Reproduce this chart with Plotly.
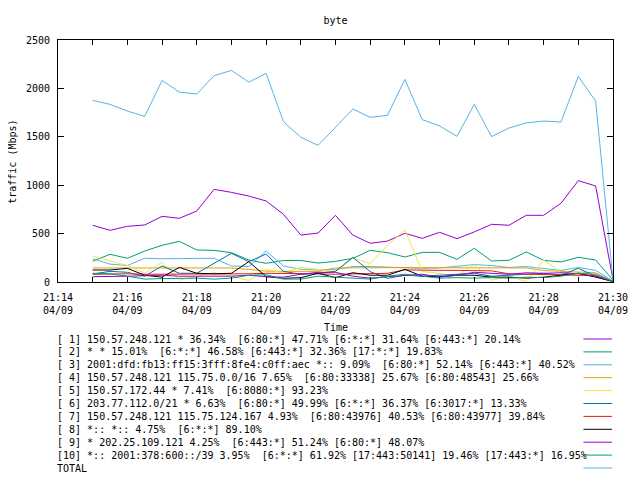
import plotly.graph_objects as go

# ---- data ----
times = ["21:15:00", "21:15:30", "21:16:00", "21:16:30", "21:17:00", "21:17:30",
         "21:18:00", "21:18:30", "21:19:00", "21:19:30", "21:20:00", "21:20:30",
         "21:21:00", "21:21:30", "21:22:00", "21:22:30", "21:23:00", "21:23:30",
         "21:24:00", "21:24:30", "21:25:00", "21:25:30", "21:26:00", "21:26:30",
         "21:27:00", "21:27:30", "21:28:00", "21:28:30", "21:29:00", "21:29:30",
         "21:30:00"]
day = "2024-04-09"

s1 = [586, 534, 575, 589, 678, 658, 733, 957, 926, 888, 837, 699, 485, 506, 689, 485,
      400, 423, 503, 451, 513, 448, 517, 596, 586, 689, 689, 813, 1047, 992, 20]
s2 = [215, 286, 245, 320, 379, 420, 331, 327, 303, 227, 193, 222, 222, 196, 213, 244,
      327, 303, 258, 306, 306, 234, 348, 217, 224, 310, 224, 207, 255, 227, 20]
s3 = [240, 185, 170, 245, 240, 240, 240, 245, 165, 160, 320, 165, 131, 124, 128, 160,
      160, 155, 150, 141, 145, 165, 180, 170, 150, 160, 140, 120, 150, 120, 10]
s4 = [145, 145, 145, 145, 145, 145, 145, 145, 145, 130, 112, 110, 110, 110, 145, 148,
      148, 148, 148, 148, 148, 148, 148, 148, 148, 145, 118, 108, 100, 95, 5]
s5 = [268, 220, 170, 90, 205, 20, 55, 96, 60, 14, 131, 96, 151, 131, 107, 245,
      193, 380, 537, 110, 85, 65, 176, 20, 60, 4, 227, 96, 107, 55, 5]
s6 = [83, 110, 100, 60, 166, 90, 90, 193, 296, 210, 289, 110, 80, 90, 110, 255,
      107, 38, 70, 60, 70, 80, 90, 60, 70, 80, 90, 70, 141, 60, 5]
s7 = [80, 85, 85, 80, 80, 85, 85, 85, 80, 85, 90, 90, 85, 85, 80, 85,
      85, 90, 125, 120, 120, 120, 120, 115, 85, 80, 80, 75, 70, 65, 5]
s8 = [124, 124, 141, 70, 50, 151, 90, 85, 90, 210, 55, 38, 45, 90, 45, 96,
      70, 70, 131, 60, 55, 70, 70, 50, 50, 40, 50, 70, 90, 50, 5]
s9 = [55, 55, 60, 65, 70, 60, 60, 55, 60, 70, 55, 50, 80, 100, 100, 60,
      40, 55, 70, 80, 50, 70, 100, 90, 80, 95, 90, 95, 85, 60, 5]
s10 = [90, 85, 60, 30, 35, 40, 40, 30, 40, 70, 75, 30, 30, 60, 50, 40,
       30, 60, 80, 60, 40, 45, 40, 45, 40, 50, 45, 60, 90, 80, 5]
total = [1876, 1835, 1766, 1711, 2082, 1962, 1942, 2131, 2186, 2065, 2155, 1656,
         1495, 1412, 1598, 1787, 1701, 1722, 2093, 1677, 1612, 1505, 1835, 1502,
         1591, 1643, 1663, 1653, 2124, 1869, 20]

labels = [
    "[ 1] 150.57.248.121 * 36.34%  [6:80:*] 47.71% [6:*:*] 31.64% [6:443:*] 20.14%",
    "[ 2] * * 15.01%  [6:*:*] 46.58% [6:443:*] 32.36% [17:*:*] 19.83%",
    "[ 3] 2001:dfd:fb13:ff15:3fff:8fe4:c0ff:aec *:: 9.09%  [6:80:*] 52.14% [6:443:*] 40.52%",
    "[ 4] 150.57.248.121 115.75.0.0/16 7.65%  [6:80:33338] 25.67% [6:80:48543] 25.66%",
    "[ 5] 150.57.172.44 * 7.41%  [6:8080:*] 93.23%",
    "[ 6] 203.77.112.0/21 * 6.63%  [6:80:*] 49.99% [6:*:*] 36.37% [6:3017:*] 13.33%",
    "[ 7] 150.57.248.121 115.75.124.167 4.93%  [6:80:43976] 40.53% [6:80:43977] 39.84%",
    "[ 8] *:: *:: 4.75%  [6:*:*] 89.10%",
    "[ 9] * 202.25.109.121 4.25%  [6:443:*] 51.24% [6:80:*] 48.07%",
    "[10] *:: 2001:378:600::/39 3.95%  [6:*:*] 61.92% [17:443:50141] 19.46% [17:443:*] 16.95%",
    "TOTAL",
]
colors = ["#9400d3", "#009e73", "#56b4e9", "#e69f00", "#f0e442", "#0072b2",
          "#e51e10", "#000000", "#9400d3", "#009e73", "#56b4e9"]

tick_times = ["21:14", "21:15", "21:16", "21:17", "21:18", "21:19", "21:20", "21:21",
              "21:22", "21:23", "21:24", "21:25", "21:26", "21:27", "21:28", "21:29", "21:30"]
tick_text = ["21:14<br>04/09", "", "21:16<br>04/09", "", "21:18<br>04/09", "",
             "21:20<br>04/09", "", "21:22<br>04/09", "", "21:24<br>04/09", "",
             "21:26<br>04/09", "", "21:28<br>04/09", "", "21:30<br>04/09"]
y_ticks = [0, 500, 1000, 1500, 2000, 2500]

# ---- figure ----
series = [s1, s2, s3, s4, s5, s6, s7, s8, s9, s10, total]
x = [f"{day} {t}" for t in times]

OFF = 8  # page body margin in the viewer
W, H = 640 - OFF, 480 - OFF
L, T = 58 - OFF, 40 - OFF
R, B = 18, 198
pw, ph = W - L - R, H - T - B
FONT = "DejaVu Sans Mono"

fig = go.Figure()
for vals, name, col in zip(series, labels, colors):
    fig.add_trace(go.Scatter(x=x, y=vals, mode="lines", name=name,
                             line=dict(color=col, width=1), showlegend=False))

# helpers: convert page pixel positions to paper coords
def px_x(p):
    return (p - OFF - L) / pw

def px_y(p):
    return (H - B - (p - OFF)) / ph

annotations = []
shapes = []
for i, (name, col) in enumerate(zip(labels, colors)):
    py = 339 + 12.9 * i
    annotations.append(dict(xref="paper", yref="paper", x=px_x(55), y=px_y(py),
                            xanchor="left", yanchor="middle", showarrow=False,
                            text=name.replace("  ", " \u00a0"),
                            font=dict(family=FONT, size=10, color="black")))
    shapes.append(dict(type="line", xref="paper", yref="paper",
                       x0=px_x(592), x1=px_x(621), y0=px_y(py), y1=px_y(py),
                       line=dict(color=col, width=1)))

annotations.append(dict(xref="paper", yref="paper", x=px_x(11), y=px_y(162),
                        xanchor="center", yanchor="middle", showarrow=False,
                        text="traffic (Mbps)", textangle=-90,
                        font=dict(family=FONT, size=10, color="black")))
annotations.append(dict(xref="paper", yref="paper", x=0.5, y=px_y(327),
                        xanchor="center", yanchor="middle", showarrow=False,
                        text="Time", font=dict(family=FONT, size=10, color="black")))

fig.update_layout(
    width=W, height=H,
    margin=dict(l=L, r=R, t=T, b=B),
    paper_bgcolor="white", plot_bgcolor="white",
    font=dict(family=FONT, size=10, color="black"),
    title=dict(text="byte", x=0.5, xref="paper", y=1 - (20 - OFF) / H, yanchor="middle",
               font=dict(family=FONT, size=10, color="black")),
    annotations=annotations, shapes=shapes,
    xaxis=dict(type="date", range=[f"{day} 21:14:00", f"{day} 21:30:00"],
               tickvals=[f"{day} {t}:00" for t in tick_times], ticktext=tick_text,
               ticks="inside", ticklen=5, tickcolor="black", tickwidth=1,
               showline=True, linecolor="black", linewidth=1, mirror="ticks",
               showgrid=False, zeroline=False, ticklabelstandoff=6),
    yaxis=dict(range=[0, 2500], tickvals=y_ticks,
               ticks="inside", ticklen=6, tickcolor="black", tickwidth=1,
               showline=True, linecolor="black", linewidth=1, mirror="ticks",
               showgrid=False, zeroline=False, ticklabelstandoff=5),
)

fig.write_html("out.html")
